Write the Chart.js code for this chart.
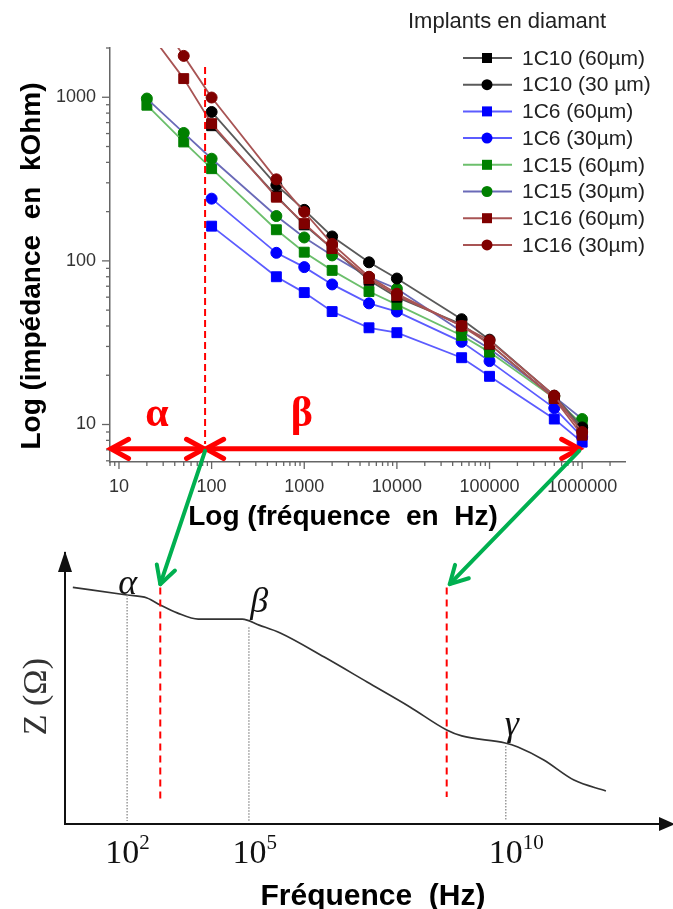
<!DOCTYPE html>
<html lang="fr">
<head>
<meta charset="utf-8">
<title>Impédance des implants en diamant</title>
<script src="https://cdn.jsdelivr.net/npm/chart.js@4.4.1/dist/chart.umd.min.js"></script>
<style>
  html, body { margin: 0; padding: 0; background: #fff; }
  #page { position: relative; width: 673px; height: 909px; overflow: hidden; }
  canvas { position: absolute; left: 0; }
  #topChart { top: 0; }
  #bottomChart { top: 540px; }
  #overlay { top: 0; pointer-events: none; }
</style>
</head>
<body>
<div id="page">
  <canvas id="topChart" width="673" height="540"></canvas>
  <canvas id="bottomChart" width="673" height="369"></canvas>
  <canvas id="overlay" width="673" height="909"></canvas>
</div>
<script>
// Données (fréquence en Hz, impédance en kOhm)
const frequences = [20, 50, 100, 500, 1000, 2000, 5000, 10000, 50000, 100000, 500000, 1000000];
const c10_60 = [null, null, 670, 250, 166, 119, 76, 60, 41, 31, 14.5, 9.3];
const c10_30 = [null, null, 813, 290, 205, 141, 98, 78, 44, 33, 15, 9.6];
const c6_60 = [null, null, 163, 80, 64, 49, 39, 36.4, 25.6, 19.7, 10.8, 7.8];
const c6_30 = [null, null, 240, 112, 91.6, 71.8, 55, 49, 32, 24.4, 12.6, 8.4];
const c15_60 = [894, 533, 366, 155, 113, 87.5, 65, 54, 35, 27.7, 14.5, 10];
const c15_30 = [982, 605, 421, 188, 139, 108, 79.6, 67.6, 37, 29, 14.8, 10.8];
const c16_60 = [2600, 1300, 690, 245, 169, 119, 78, 61.5, 40, 31, 14.4, 8.6];
const c16_30 = [3800, 1790, 996, 315, 199, 127, 80, 63, 40, 32.6, 15, 9.0];
const seriesNames = ["1C10 (60µm)", "1C10 (30 µm)", "1C6 (60µm)", "1C6 (30µm)",
                     "1C15 (60µm)", "1C15 (30µm)", "1C16 (60µm)", "1C16 (30µm)"];
const xTickLabels = ["10", "100", "1000", "10000", "100000", "1000000"];
const yTickLabels = ["10", "100", "1000"];

// Schéma du bas : position (unités arbitraires, échelle log) et Z
const schemaPos = [1.3, 10.3, 13.6, 15.8, 18.6, 22.1, 29.4, 32.2, 35.7, 43.0, 50.1, 57.2, 63.3, 65.8, 73.0, 75.1, 79.4, 84.4, 89.7];
const schemaZ = [87.3, 84.5, 83.4, 80.8, 77.9, 75.6, 75.6, 73.4, 70.5, 61.6, 52.4, 43.2, 34.7, 32.5, 29.9, 28.4, 23.6, 16.2, 12.2];
const schemaTickPos = [9.5, 30.6, 73.1];
const schemaTickExp = ["2", "5", "10"];

const allSeries = [c10_60, c10_30, c6_60, c6_30, c15_60, c15_30, c16_60, c16_30];
const lineColors = ["#5a5a5a", "#5a5a5a", "#5c5cff", "#5c5cff", "#6cbf6c", "#6a6ab8", "#a85454", "#a85454"];
const markerColors = ["#000000", "#000000", "#0000ff", "#0000ff", "#008000", "#008000", "#800000", "#800000"];
const markerShapes = ["rect", "circle", "rect", "circle", "rect", "circle", "rect", "circle"];
const drawOrder = [3, 2, 7, 6, 5, 4, 1, 0];

const SANS = '"Liberation Sans", Arial, sans-serif';
const SERIF = '"Liberation Serif", "Times New Roman", serif';

function isDecade(v) {
    const l = Math.log10(v);
    return Math.abs(l - Math.round(l)) < 1e-9;
}

function logTicks(min, max) {
    const out = [];
    for (let e = -1; e <= 7; e++) {
        for (let k = 1; k <= 9; k++) {
            const v = k * Math.pow(10, e);
            if (v >= min && v <= max) out.push({ value: v, major: k === 1 });
        }
    }
    return out;
}

function line(ctx, x1, y1, x2, y2) {
    ctx.beginPath();
    ctx.moveTo(x1, y1);
    ctx.lineTo(x2, y2);
    ctx.stroke();
}

function chevron(ctx, tipX, tipY, fromX, fromY, len, spread) {
    const ang = Math.atan2(tipY - fromY, tipX - fromX);
    ctx.beginPath();
    ctx.moveTo(tipX - len * Math.cos(ang - spread), tipY - len * Math.sin(ang - spread));
    ctx.lineTo(tipX, tipY);
    ctx.lineTo(tipX - len * Math.cos(ang + spread), tipY - len * Math.sin(ang + spread));
    ctx.stroke();
}

function drawMarker(ctx, shape, x, y, color) {
    ctx.fillStyle = color;
    if (shape === "rect") {
        ctx.fillRect(x - 5, y - 5, 10, 10);
    } else {
        ctx.beginPath();
        ctx.arc(x, y, 5.5, 0, Math.PI * 2);
        ctx.fill();
    }
}

// ---------- graphique du haut ----------
const topDecor = {
    id: "topDecor",
    afterDraw(chart) {
        const { ctx, chartArea: a, scales: { x, y } } = chart;
        ctx.save();

        // graduations
        ctx.strokeStyle = "#666";
        ctx.lineWidth = 1.3;
        x.ticks.forEach(t => {
            const px = x.getPixelForValue(t.value);
            line(ctx, px, a.bottom, px, a.bottom + (isDecade(t.value) ? 7 : 4));
        });
        y.ticks.forEach(t => {
            const py = y.getPixelForValue(t.value);
            line(ctx, a.left, py, a.left - (isDecade(t.value) ? 8 : 4), py);
        });

        // titres des axes
        ctx.fillStyle = "#000";
        ctx.font = "bold 28px " + SANS;
        ctx.textAlign = "center";
        ctx.textBaseline = "alphabetic";
        ctx.fillText("Log (fréquence  en  Hz)", 343, 525);
        ctx.save();
        ctx.translate(40, 266);
        ctx.rotate(-Math.PI / 2);
        ctx.fillText("Log (impédance  en  kOhm)", 0, 0);
        ctx.restore();

        // légende
        ctx.font = "22px " + SANS;
        ctx.fillStyle = "#222";
        ctx.textAlign = "left";
        ctx.textBaseline = "middle";
        ctx.fillText("Implants en diamant", 408, 22);
        ctx.font = "21px " + SANS;
        seriesNames.forEach((name, i) => {
            const ry = 58 + i * 26.7;
            ctx.strokeStyle = lineColors[i];
            ctx.lineWidth = 2;
            line(ctx, 463, ry, 512, ry);
            drawMarker(ctx, markerShapes[i], 487, ry, markerColors[i]);
            ctx.fillStyle = "#222";
            ctx.fillText(name, 522, ry + 1);
        });

        // zones alpha / beta
        const fSplit = 85, zArrow = 7.1;
        const xs = x.getPixelForValue(fSplit);
        ctx.strokeStyle = "#ff0000";
        ctx.lineWidth = 2;
        ctx.setLineDash([7, 4]);
        line(ctx, xs, y.getPixelForValue(1530), xs, y.getPixelForValue(7.6));
        ctx.setLineDash([]);

        const ya = y.getPixelForValue(zArrow);
        const xr = x.getPixelForValue(9.3e5);
        ctx.lineWidth = 5;
        ctx.lineCap = "round";
        line(ctx, a.left + 2, ya, xs - 2, ya);
        line(ctx, xs + 2, ya, xr, ya);
        chevron(ctx, a.left + 1, ya, a.left + 30, ya, 20, 0.5);
        chevron(ctx, xs - 1, ya, xs - 30, ya, 20, 0.5);
        chevron(ctx, xs + 1, ya, xs + 30, ya, 20, 0.5);
        chevron(ctx, xr, ya, xr - 30, ya, 20, 0.5);

        ctx.fillStyle = "#ff0000";
        ctx.font = "bold 42px " + SERIF;
        ctx.textAlign = "center";
        ctx.textBaseline = "middle";
        ctx.fillText("α", x.getPixelForValue(25.7), y.getPixelForValue(11.4));
        ctx.fillText("β", x.getPixelForValue(940), y.getPixelForValue(11.4));
        ctx.restore();
    }
};

const topDatasets = allSeries.map((vals, i) => ({
    label: seriesNames[i],
    data: frequences.map((f, j) => ({ x: f, y: vals[j] })).filter(p => p.y !== null),
    borderColor: lineColors[i],
    borderWidth: 1.8,
    pointStyle: markerShapes[i],
    pointRadius: markerShapes[i] === "rect" ? 7 : 5.5,
    pointBackgroundColor: markerColors[i],
    pointBorderColor: markerColors[i],
    pointBorderWidth: 1,
    tension: 0,
    order: drawOrder[i]
}));

const topChart = new Chart(document.getElementById("topChart"), {
    type: "line",
    data: { datasets: topDatasets },
    options: {
        responsive: false,
        animation: false,
        layout: { padding: { left: 0, right: 48, top: 48, bottom: 0 } },
        plugins: { legend: { display: false }, tooltip: { enabled: false } },
        scales: {
            x: {
                type: "logarithmic",
                min: 8,
                max: 2.9e6,
                grid: { display: false, drawTicks: false },
                border: { display: true, color: "#666", width: 1.5 },
                afterBuildTicks: s => { s.ticks = logTicks(8, 2.9e6); },
                afterFit: s => { s.height = 78; },
                ticks: {
                    autoSkip: false,
                    maxRotation: 0,
                    padding: 14,
                    color: "#333",
                    font: { family: SANS, size: 18 },
                    callback: v => (isDecade(v) && xTickLabels.includes(String(Math.round(v)))) ? String(Math.round(v)) : ""
                }
            },
            y: {
                type: "logarithmic",
                min: 5.9,
                max: 2000,
                grid: { display: false, drawTicks: false },
                border: { display: true, color: "#666", width: 1.5 },
                afterBuildTicks: s => { s.ticks = logTicks(5.9, 2000); },
                afterFit: s => { s.width = 110; },
                ticks: {
                    autoSkip: false,
                    padding: 14,
                    color: "#333",
                    font: { family: SANS, size: 18 },
                    callback: v => (isDecade(v) && yTickLabels.includes(String(Math.round(v)))) ? String(Math.round(v)) : ""
                }
            }
        }
    },
    plugins: [topDecor]
});

// ---------- schéma du bas ----------
const bottomDecor = {
    id: "bottomDecor",
    afterDraw(chart) {
        const { ctx, chartArea: a, scales: { x, y } } = chart;
        ctx.save();

        // flèches des axes
        ctx.fillStyle = "#111";
        ctx.beginPath();
        ctx.moveTo(a.left, a.top - 2);
        ctx.lineTo(a.left - 7, a.top + 19);
        ctx.lineTo(a.left + 7, a.top + 19);
        ctx.closePath();
        ctx.fill();
        ctx.beginPath();
        ctx.moveTo(chart.width + 2, a.bottom);
        ctx.lineTo(chart.width - 14, a.bottom - 7);
        ctx.lineTo(chart.width - 14, a.bottom + 7);
        ctx.closePath();
        ctx.fill();

        // repères pointillés alpha, beta, gamma
        const marks = [[10.3, 84.5], [30.5, 72.6], [73.1, 28.8]];
        ctx.strokeStyle = "#8a8a8a";
        ctx.lineWidth = 1.3;
        ctx.setLineDash([1.5, 1.5]);
        marks.forEach(([mx, mz]) => {
            line(ctx, x.getPixelForValue(mx), y.getPixelForValue(mz), x.getPixelForValue(mx), a.bottom - 3);
        });

        // limites reportées du graphique du haut
        ctx.strokeStyle = "#ff0000";
        ctx.lineWidth = 2;
        ctx.setLineDash([7, 5]);
        line(ctx, x.getPixelForValue(15.8), y.getPixelForValue(87.3), x.getPixelForValue(15.8), y.getPixelForValue(8.9));
        line(ctx, x.getPixelForValue(63.3), y.getPixelForValue(87.3), x.getPixelForValue(63.3), y.getPixelForValue(10));
        ctx.setLineDash([]);

        // lettres grecques
        ctx.fillStyle = "#111";
        ctx.font = "italic 36px " + SERIF;
        ctx.textAlign = "center";
        ctx.textBaseline = "middle";
        ctx.fillText("α", x.getPixelForValue(10.4), y.getPixelForValue(88.5));
        ctx.fillText("β", x.getPixelForValue(32.2), y.getPixelForValue(81.9));
        ctx.fillText("γ", x.getPixelForValue(74.1), y.getPixelForValue(36.2));

        // graduations 10^n
        ctx.textBaseline = "alphabetic";
        schemaTickPos.forEach((p, i) => {
            const px = x.getPixelForValue(p);
            ctx.font = "34px " + SERIF;
            ctx.textAlign = "center";
            ctx.fillText("10", px, a.bottom + 39);
            ctx.font = "21px " + SERIF;
            ctx.textAlign = "left";
            ctx.fillText(schemaTickExp[i], px + 17, a.bottom + 25);
        });

        // titres
        ctx.fillStyle = "#000";
        ctx.font = "bold 30px " + SANS;
        ctx.textAlign = "center";
        ctx.fillText("Fréquence  (Hz)", 373, chart.height - 4);
        ctx.save();
        ctx.translate(37, y.getPixelForValue(47));
        ctx.rotate(-Math.PI / 2);
        ctx.fillStyle = "#333";
        ctx.font = "34px " + SERIF;
        ctx.textBaseline = "middle";
        ctx.fillText("Z (Ω)", 0, 0);
        ctx.restore();
        ctx.restore();
    }
};

const bottomChart = new Chart(document.getElementById("bottomChart"), {
    type: "line",
    data: {
        datasets: [{
            data: schemaPos.map((p, i) => ({ x: p, y: schemaZ[i] })),
            borderColor: "#333",
            borderWidth: 1.7,
            pointRadius: 0,
            cubicInterpolationMode: "monotone"
        }]
    },
    options: {
        responsive: false,
        animation: false,
        layout: { padding: { left: 0, right: 5, top: 13, bottom: 0 } },
        plugins: { legend: { display: false }, tooltip: { enabled: false } },
        scales: {
            x: {
                type: "linear", min: 0, max: 100,
                grid: { display: false },
                ticks: { display: false },
                border: { display: true, color: "#111", width: 2 },
                afterFit: s => { s.height = 85; }
            },
            y: {
                type: "linear", min: 0, max: 100,
                grid: { display: false },
                ticks: { display: false },
                border: { display: true, color: "#111", width: 2 },
                afterFit: s => { s.width = 65; }
            }
        }
    },
    plugins: [bottomDecor]
});

// ---------- flèches vertes reliant les deux figures ----------
function drawLinks() {
    const ctx = document.getElementById("overlay").getContext("2d");
    const tx = topChart.scales.x, ty = topChart.scales.y;
    const bx = bottomChart.scales.x, by = bottomChart.scales.y;
    const offset = 540;
    const links = [
        [tx.getPixelForValue(85), ty.getPixelForValue(7.1) + 2, bx.getPixelForValue(15.8), by.getPixelForValue(88.5) + offset],
        [tx.getPixelForValue(9.3e5), ty.getPixelForValue(7.1) + 2, bx.getPixelForValue(63.8), by.getPixelForValue(88.5) + offset]
    ];
    ctx.strokeStyle = "#00b050";
    ctx.lineWidth = 4;
    ctx.lineCap = "round";
    ctx.lineJoin = "round";
    links.forEach(([x1, y1, x2, y2]) => {
        line(ctx, x1, y1, x2, y2);
        chevron(ctx, x2, y2, x1, y1, 20, 0.5);
    });
}
drawLinks();
</script>
</body>
</html>
